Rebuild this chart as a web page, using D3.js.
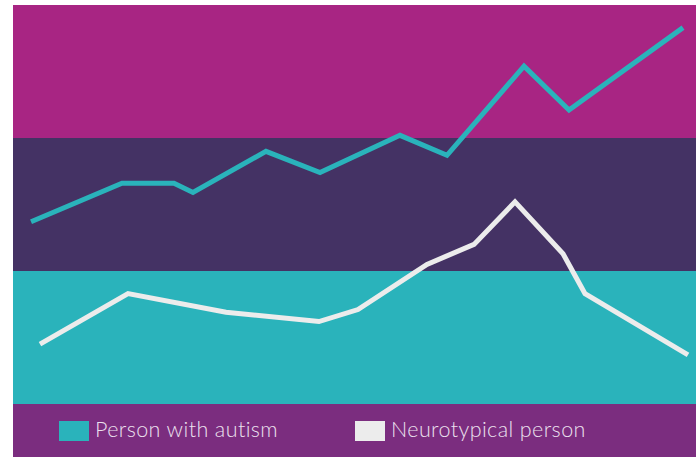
<!DOCTYPE html>
<html>
<head>
<meta charset="utf-8">
<script src="https://cdn.jsdelivr.net/npm/d3@7"></script>
<style>
  body { margin: 0; background: #fff; }
</style>
</head>
<body>
<div id="chart"></div>
<script>
// band colours, bottom to top
const bands = ["#2ab3bb", "#443264", "#a82583"];

// x position (0-100 along the period), y level (0-3, one unit per band)
const autismX = [2.64, 15.96, 23.57, 26.35, 37.04, 44.95, 56.66, 63.54, 74.82, 81.41, 98.10];
const autismY = [1.37, 1.66, 1.66, 1.59, 1.90, 1.74, 2.02, 1.87, 2.54, 2.21, 2.83];

const typicalX = [3.95, 16.84, 31.19, 44.80, 50.51, 60.61, 67.50, 73.50, 80.53, 83.75, 98.83];
const typicalY = [0.45, 0.83, 0.69, 0.62, 0.71, 1.05, 1.20, 1.52, 1.13, 0.83, 0.37];

const seriesNames = ["Person with autism", "Neurotypical person"];
const seriesColors = ["#2ab3bb", "#ececec"];

function init() {
    const w = 700, h = 457;
    const left = 13, right = 696, top = 5, bottom = 404;

    const svg = d3.select("#chart")
        .append("svg")
        .attr("width", w)
        .attr("height", h);

    const x = d3.scaleLinear().domain([0, 100]).range([left, right]);
    const y = d3.scaleLinear().domain([0, 3]).range([bottom, top]);

    // background bands
    svg.selectAll("rect.band")
        .data(bands)
        .enter()
        .append("rect")
        .attr("class", "band")
        .attr("x", left)
        .attr("y", (d, i) => y(i + 1))
        .attr("width", right - left)
        .attr("height", (d, i) => y(i) - y(i + 1))
        .attr("fill", d => d);

    // legend strip
    svg.append("rect")
        .attr("x", left)
        .attr("y", bottom)
        .attr("width", right - left)
        .attr("height", h - bottom)
        .attr("fill", "#7b2d7f");

    const line = d3.line()
        .x(d => x(d[0]))
        .y(d => y(d[1]));

    const series = [
        d3.zip(autismX, autismY),
        d3.zip(typicalX, typicalY)
    ];

    svg.selectAll("path.series")
        .data(series)
        .enter()
        .append("path")
        .attr("class", "series")
        .attr("d", line)
        .attr("fill", "none")
        .attr("stroke", (d, i) => seriesColors[i])
        .attr("stroke-width", 5)
        .attr("stroke-linejoin", "miter");

    // legend
    const legendX = [59, 355];
    const lg = svg.selectAll("g.legend")
        .data(seriesNames)
        .enter()
        .append("g")
        .attr("class", "legend")
        .attr("transform", (d, i) => `translate(${legendX[i]},421)`);

    lg.append("rect")
        .attr("width", 30)
        .attr("height", 20)
        .attr("fill", (d, i) => seriesColors[i]);

    lg.append("text")
        .attr("x", 36)
        .attr("y", 16)
        .text(d => d)
        .attr("font-family", "Lato, sans-serif")
        .attr("font-weight", 300)
        .attr("font-size", "21.5px")
        .attr("letter-spacing", "0.4px")
        .attr("fill", "#ebe0ee");
}

window.onload = init;
</script>
</body>
</html>
